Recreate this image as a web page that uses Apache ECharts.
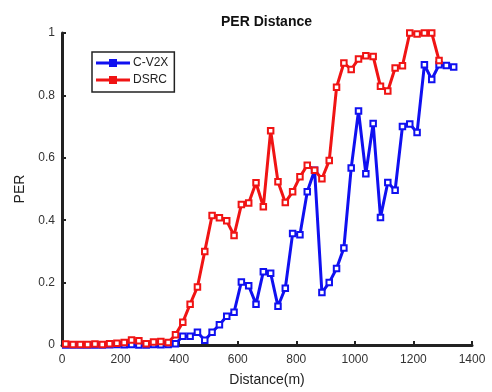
<!DOCTYPE html>
<html><head><meta charset="utf-8">
<script src="https://cdn.jsdelivr.net/npm/echarts@6/dist/echarts.min.js"></script>
<style>html,body{margin:0;padding:0;background:#fff}#c{width:492px;height:392px}</style>
</head><body><div id="c"></div>
<script>
const titleText = 'PER Distance';
const xName = 'Distance(m)';
const yName = 'PER';
const seriesNames = ['C-V2X', 'DSRC'];
const xTicks = [0, 200, 400, 600, 800, 1000, 1200, 1400];
const yTicks = [0, 0.2, 0.4, 0.6, 0.8, 1];

const distances = [12.5, 37.5, 62.5, 87.5, 112.5, 137.5, 162.5, 187.5, 212.5, 237.5,
  262.5, 287.5, 312.5, 337.5, 362.5, 387.5, 412.5, 437.5, 462.5, 487.5,
  512.5, 537.5, 562.5, 587.5, 612.5, 637.5, 662.5, 687.5, 712.5, 737.5,
  762.5, 787.5, 812.5, 837.5, 862.5, 887.5, 912.5, 937.5, 962.5, 987.5,
  1012.5, 1037.5, 1062.5, 1087.5, 1112.5, 1137.5, 1162.5, 1187.5, 1212.5, 1237.5,
  1262.5, 1287.5, 1312.5, 1337.5];

const cv2x = [0, 0, 0, 0, 0, 0, 0.001, 0.002, 0.001, 0.002,
  0, 0, 0.002, 0.001, 0.002, 0.004, 0.028, 0.028, 0.041, 0.015,
  0.041, 0.065, 0.092, 0.105, 0.202, 0.19, 0.131, 0.235, 0.23, 0.124,
  0.182, 0.357, 0.353, 0.491, 0.56, 0.168, 0.2, 0.245, 0.311, 0.567,
  0.75, 0.549, 0.71, 0.409, 0.521, 0.496, 0.70, 0.708, 0.681, 0.898,
  0.851, 0.898, 0.896, 0.891];

const dsrc = [0.003, 0.002, 0.002, 0.002, 0.003, 0.002, 0.004, 0.006, 0.008, 0.016,
  0.014, 0.004, 0.01, 0.011, 0.008, 0.033, 0.073, 0.131, 0.186, 0.30,
  0.415, 0.408, 0.398, 0.351, 0.45, 0.455, 0.52, 0.443, 0.687, 0.523,
  0.457, 0.491, 0.539, 0.576, 0.56, 0.533, 0.591, 0.826, 0.904, 0.883,
  0.917, 0.927, 0.925, 0.829, 0.814, 0.888, 0.895, 1.0, 0.997, 1.0,
  1.0, 0.912];

const colors = ['#1010f0', '#f01414'];
const font = "'Liberation Sans', Arial, sans-serif";
const legendIcon = 'path://M0,2.6H13V0H21V2.6H34V5.4H21V8H13V5.4H0Z';

function pairs(xs, ys) { return ys.map((v, i) => [xs[i], v]); }

const chart = echarts.init(document.getElementById('c'));
chart.setOption({
  animation: false,
  textStyle: { fontFamily: font },
  title: {
    text: titleText, left: 216, top: 10,
    textStyle: { fontFamily: font, fontSize: 14, fontWeight: 'bold', color: '#111' }
  },
  legend: {
    orient: 'vertical', left: 92, top: 52,
    data: seriesNames.map(n => ({ name: n, icon: legendIcon })),
    backgroundColor: '#fff', borderColor: '#222', borderWidth: 1.5,
    padding: [5, 6, 6, 4], itemWidth: 34, itemHeight: 8, itemGap: 5,
    itemStyle: { borderWidth: 0 },
    textStyle: { fontFamily: font, fontSize: 12, color: '#222', padding: [0, 0, 0, -2] }
  },
  grid: { left: 62, right: 20, top: 33, bottom: 44 },
  xAxis: {
    type: 'value', min: xTicks[0], max: xTicks[xTicks.length - 1], interval: 200,
    name: xName, nameLocation: 'middle', nameGap: 28,
    nameTextStyle: { fontFamily: font, fontSize: 14, color: '#222' },
    axisLine: { lineStyle: { color: '#222', width: 3 } },
    axisTick: { inside: true, length: 4, lineStyle: { width: 2, color: '#222' } },
    axisLabel: { fontFamily: font, fontSize: 12, color: '#333', margin: 9, formatter: v => String(v) },
    splitLine: { show: false }
  },
  yAxis: {
    type: 'value', min: yTicks[0], max: yTicks[yTicks.length - 1], interval: 0.2,
    name: yName, nameLocation: 'middle', nameGap: 33,
    nameTextStyle: { fontFamily: font, fontSize: 14, color: '#222' },
    axisLine: { show: true, lineStyle: { color: '#222', width: 3 } },
    axisTick: { show: true, inside: true, length: 4, lineStyle: { width: 2, color: '#222' } },
    axisLabel: { fontFamily: font, fontSize: 12, color: '#333', margin: 7 },
    splitLine: { show: false }
  },
  series: [
    {
      name: seriesNames[0], type: 'line', data: pairs(distances, cv2x),
      color: colors[0], symbol: 'emptyRect', symbolSize: 5.5, showAllSymbol: true,
      lineStyle: { width: 3, color: colors[0] },
      itemStyle: { color: colors[0], borderColor: colors[0], borderWidth: 2.6 }
    },
    {
      name: seriesNames[1], type: 'line', data: pairs(distances, dsrc),
      color: colors[1], symbol: 'emptyRect', symbolSize: 5.5, showAllSymbol: true,
      lineStyle: { width: 3, color: colors[1] },
      itemStyle: { color: colors[1], borderColor: colors[1], borderWidth: 2.6 }
    }
  ]
});
</script></body></html>
